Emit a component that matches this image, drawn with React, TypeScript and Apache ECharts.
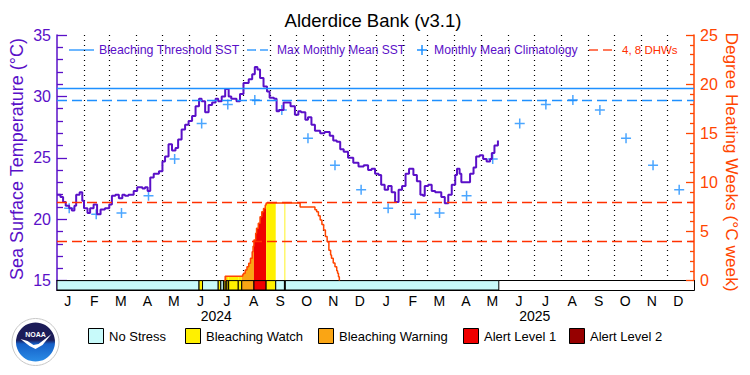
import React, { useEffect, useRef } from "react";
import * as echarts from "echarts";

// ---------- data ----------
const DAY = 86400000;
const T0 = Date.UTC(2024, 0, 1);
const T1 = Date.UTC(2026, 0, 1);
const toTs = (d: number) => T0 + d * DAY;

const monthLetters = ["J", "F", "M", "A", "M", "J", "J", "A", "S", "O", "N", "D"];
const years = ["2024", "2025"];

// daily SST (day offset from 2024-01-01)
const sstDay = [
  0, 4, 7, 10, 14, 17, 20, 22, 26, 29, 31, 35, 38, 42, 46, 50, 55, 60, 63, 67, 71, 75, 78, 82, 88, 92, 98, 101,
  104, 107, 111, 117, 121, 124, 128, 132, 136, 139, 143, 147, 151, 155, 159, 163, 166, 170, 174, 178, 182, 185,
  189, 193, 197, 200, 206, 210, 214, 220, 224, 227, 230, 233, 237, 241, 244, 249, 252, 255, 260, 265, 268, 273,
  277, 280, 285, 288, 292, 296, 302, 307, 313, 317, 321, 325, 329, 334, 340, 346, 352, 357, 361, 365, 369, 372,
  376, 380, 384, 388, 392, 396, 400, 404, 409, 413, 417, 420, 422, 426, 430, 434, 437, 441, 445, 449, 453, 457,
  459, 462, 464, 470, 474, 478, 481, 485, 489, 493, 497, 499, 502, 506,
];
const sstTemp = [
  22.0, 21.8, 21.4, 21.1, 20.9, 20.7, 21.1, 22.0, 22.2, 21.5, 20.9, 20.5, 20.9, 21.2, 20.4, 20.8, 20.9, 21.2, 21.9,
  22.0, 21.7, 22.0, 21.9, 22.0, 22.3, 22.6, 22.5, 22.6, 22.3, 23.4, 23.7, 23.9, 24.7, 25.1, 26.1, 25.6, 25.8, 26.5,
  27.3, 27.7, 28.0, 28.4, 29.2, 29.8, 29.6, 28.7, 29.3, 29.5, 29.8, 29.6, 30.0, 30.6, 30.0, 29.8, 29.6, 30.2, 31.1,
  31.4, 31.8, 32.4, 32.2, 31.5, 30.8, 30.4, 29.9, 29.8, 28.8, 28.9, 29.5, 29.5, 29.2, 28.5, 28.8, 28.7, 28.1, 28.3,
  27.7, 27.2, 27.0, 27.1, 26.8, 26.4, 26.3, 25.7, 25.5, 25.0, 24.6, 24.3, 24.4, 24.0, 24.1, 23.7, 23.6, 22.8, 22.4,
  22.7, 22.2, 21.4, 22.4, 22.7, 23.7, 24.1, 23.6, 23.1, 22.0, 21.9, 22.7, 22.8, 22.3, 22.2, 22.2, 21.8, 21.3, 22.0,
  22.8, 23.6, 24.1, 23.7, 23.0, 23.0, 23.7, 24.2, 25.1, 25.2, 24.9, 24.7, 24.9, 25.4, 26.0, 26.4,
];

// monthly mean climatology (Jan..Dec)
const climatology = [20.9, 20.4, 20.5, 21.9, 24.9, 27.8, 29.35, 29.7, 28.9, 26.6, 24.4, 22.4];
const MMM = 29.66;
const THRESHOLD = 30.66;
const dhwLevels = [4, 8];

// Degree heating weeks
const dhwDay = [
  192, 193, 213, 214, 216, 218, 220, 222, 224, 225, 226, 228, 229, 231, 233, 235, 237, 239, 240, 279, 294, 296, 298,
  300, 302, 304, 306, 308, 310, 312, 314, 315, 317, 319, 321, 322, 323, 324,
];
const dhwVal = [
  0, 0.45, 0.6, 0.74, 1.08, 1.4, 1.76, 2.27, 2.94, 3.5, 4.13, 4.81, 5.32, 5.83, 6.5, 7.0, 7.35, 7.69, 7.9, 7.5, 7.5,
  7.2, 7.0, 6.6, 6.16, 5.7, 5.15, 4.5, 3.96, 3.1, 2.6, 2.27, 1.8, 1.41, 1.0, 0.74, 0.4, 0,
];

// stress level runs (start day, level); last run ends at stressEndDay
const stressStartDay = [0, 163, 167, 185, 188, 191, 193, 195, 197, 208, 212, 226, 240, 251, 261, 262];
const stressLevel = [0, 1, 0, 1, 0, 1, 2, 1, 1, 1, 2, 3, 1, 0, 1, 0];
const stressEndDay = 507;
const stressNames = ["No Stress", "Bleaching Watch", "Bleaching Warning", "Alert Level 1", "Alert Level 2"];
const stressColors = ["#c8fafa", "#fff000", "#faa514", "#f00000", "#960000"];

// ---------- styles ----------
const PURPLE = "#5a10c8";
const ORANGE = "#ff4500";
const BLUE = "#1e90ff";
const RED = "#ff3000";
const FONT = "Liberation Sans";

const App: React.FC = () => {
  const ref = useRef<HTMLDivElement>(null);

  useEffect(() => {
    if (!ref.current) return;
    const chart = echarts.init(ref.current, undefined, { renderer: "svg" });

    const sstData = sstDay.map((d, i) => [toTs(d), sstTemp[i]]);
    const dhwPts = dhwDay.map((d, i) => [toTs(d), dhwVal[i]]);
    const climData: number[][] = [];
    years.forEach((y) => climatology.forEach((v, m) => climData.push([Date.UTC(+y, m, 15), v])));
    const runs = stressStartDay.map((s, i) => [
      toTs(s),
      toTs(i + 1 < stressStartDay.length ? stressStartDay[i + 1] : stressEndDay),
      stressLevel[i],
    ]);
    const monthStarts: number[][] = [];
    for (let i = 1; i < 24; i++) monthStarts.push([Date.UTC(2024, i, 1), 15]);
    const monthCats = years.flatMap(() => monthLetters);

    const dhwAt = (t: number) => {
      let v = 0;
      for (const p of dhwPts) if (p[0] <= t) v = p[1];
      return v;
    };

    const cx = 35.5,
      cy = 342;
    const bird = [
      [-15, -3], [-8, -1], [-2, 3], [3, 2], [16, -8], [7, 3], [0, 7], [-6, 4],
    ].map(([x, y]) => [cx + x, cy + y]);

    const legendTop = [
      { type: "line", shape: { x1: 69, y1: 50, x2: 94, y2: 50 }, style: { stroke: BLUE, lineWidth: 1.3 } },
      { type: "text", x: 99, y: 50, style: { text: "Bleaching Threshold SST", fill: PURPLE, font: `12.4px "${FONT}"`, verticalAlign: "middle" } },
      { type: "line", shape: { x1: 247, y1: 50, x2: 256, y2: 50 }, style: { stroke: BLUE, lineWidth: 1.3 } },
      { type: "line", shape: { x1: 260, y1: 50, x2: 268, y2: 50 }, style: { stroke: BLUE, lineWidth: 1.3 } },
      { type: "text", x: 277, y: 50, style: { text: "Max Monthly Mean SST", fill: PURPLE, font: `12px "${FONT}"`, verticalAlign: "middle" } },
      { type: "line", shape: { x1: 417, y1: 50, x2: 427, y2: 50 }, style: { stroke: BLUE, lineWidth: 1.5 } },
      { type: "line", shape: { x1: 422, y1: 45, x2: 422, y2: 55 }, style: { stroke: BLUE, lineWidth: 1.5 } },
      { type: "text", x: 434, y: 50, style: { text: "Monthly Mean Climatology", fill: PURPLE, font: `12.2px "${FONT}"`, verticalAlign: "middle" } },
      { type: "line", shape: { x1: 589, y1: 50, x2: 598, y2: 50 }, style: { stroke: RED, lineWidth: 1.3 } },
      { type: "line", shape: { x1: 603, y1: 50, x2: 612, y2: 50 }, style: { stroke: RED, lineWidth: 1.3 } },
      { type: "text", x: 622, y: 50, style: { text: "4, 8 DHWs", fill: RED, font: `11.5px "${FONT}"`, verticalAlign: "middle" } },
    ];

    const legendX = [88, 185, 318, 463, 569];
    const legendBottom: any[] = [];
    stressNames.forEach((n, i) => {
      legendBottom.push({
        type: "rect",
        shape: { x: legendX[i] + 0.5, y: 328.5, width: 15, height: 15 },
        style: { fill: stressColors[i], stroke: "#000", lineWidth: 1 },
      });
      legendBottom.push({
        type: "text",
        x: legendX[i] + 21,
        y: 336,
        style: { text: n, fill: "#000", font: `13px "${FONT}"`, verticalAlign: "middle" },
      });
    });

    const option: any = {
      animation: false,
      backgroundColor: "#fff",
      textStyle: { fontFamily: FONT },
      grid: [
        { left: 57, right: 56, top: 35, height: 245.6 },
        { left: 57, right: 56, top: 280.6, height: 9.4 },
      ],
      xAxis: [
        {
          type: "time", gridIndex: 0, min: T0, max: T1, position: "top",
          axisLine: { show: true, lineStyle: { color: "#000", width: 1 } },
          axisTick: { show: false }, axisLabel: { show: false }, splitLine: { show: false },
        },
        {
          type: "time", gridIndex: 1, min: T0, max: T1, position: "top",
          axisLine: { show: true, lineStyle: { color: "#000", width: 1 } },
          axisTick: { show: false }, axisLabel: { show: false }, splitLine: { show: false },
        },
        {
          type: "category", gridIndex: 1, data: monthCats, position: "bottom", boundaryGap: true,
          axisLine: { show: true, lineStyle: { color: "#000", width: 1 } },
          axisTick: { show: false },
          axisLabel: { interval: 0, color: "#000", fontSize: 14, fontFamily: FONT, margin: 4, padding: [0, 5, 0, 0] },
          splitLine: { show: false },
        },
        {
          type: "category", gridIndex: 1, data: years, position: "bottom", boundaryGap: true,
          axisLine: { show: false }, axisTick: { show: false },
          axisLabel: { interval: 0, color: "#000", fontSize: 14, fontFamily: FONT, margin: 19 },
          splitLine: { show: false },
        },
      ],
      yAxis: [
        {
          type: "value", gridIndex: 0, min: 15, max: 35, interval: 5, position: "left",
          axisLine: { show: true, lineStyle: { color: PURPLE, width: 1.5 } },
          axisTick: { show: true, inside: true, length: 10, lineStyle: { color: PURPLE, width: 1.3 } },
          minorTick: { show: true, splitNumber: 5, length: 6, lineStyle: { color: PURPLE, width: 1.3 } },
          axisLabel: { color: PURPLE, fontSize: 16, fontFamily: FONT, margin: 6 },
          splitLine: { show: false },
        },
        {
          type: "value", gridIndex: 0, min: 0, max: 25, interval: 5, position: "right",
          axisLine: { show: true, lineStyle: { color: ORANGE, width: 1.5 } },
          axisTick: { show: true, inside: true, length: 8, lineStyle: { color: ORANGE, width: 1.3 } },
          minorTick: { show: true, splitNumber: 5, length: 4, lineStyle: { color: ORANGE, width: 1.3 } },
          axisLabel: { color: ORANGE, fontSize: 16, fontFamily: FONT, margin: 6 },
          splitLine: { show: false },
        },
        {
          type: "value", gridIndex: 1, min: 0, max: 1, position: "left",
          axisLine: { show: true, lineStyle: { color: PURPLE, width: 1.5 } },
          axisTick: { show: false }, axisLabel: { show: false }, splitLine: { show: false },
        },
        {
          type: "value", gridIndex: 1, min: 0, max: 1, position: "right",
          axisLine: { show: true, lineStyle: { color: "#000", width: 1 } },
          axisTick: { show: false }, axisLabel: { show: false }, splitLine: { show: false },
        },
      ],
      series: [
        {
          name: "months",
          type: "custom",
          xAxisIndex: 0,
          yAxisIndex: 0,
          silent: true,
          data: monthStarts,
          encode: { x: 0, y: 1 },
          renderItem: (params: any, api: any) => {
            const t = api.value(0);
            const a = api.coord([t, 35]);
            const b = api.coord([t, 15]);
            return {
              type: "line",
              shape: { x1: Math.round(a[0]) + 0.5, y1: a[1], x2: Math.round(b[0]) + 0.5, y2: b[1] },
              style: { stroke: "#000", lineWidth: 1.2, lineDash: [1, 4] },
            };
          },
        },
        {
          name: "DHW fill",
          type: "custom",
          xAxisIndex: 0,
          yAxisIndex: 1,
          silent: true,
          data: runs.filter((r) => r[2] > 0),
          encode: { x: [0, 1], y: 2 },
          renderItem: (params: any, api: any) => {
            const s = api.value(0),
              e = api.value(1),
              lvl = api.value(2);
            let v = dhwAt(s);
            const pts: number[][] = [api.coord([s, 0]), api.coord([s, v])];
            for (const p of dhwPts) {
              if (p[0] > s && p[0] < e) {
                pts.push(api.coord([p[0], v]));
                v = p[1];
                pts.push(api.coord([p[0], v]));
              }
            }
            pts.push(api.coord([e, v]), api.coord([e, 0]));
            return { type: "polygon", shape: { points: pts }, style: { fill: stressColors[lvl] } };
          },
        },
        {
          name: "DHW",
          type: "line",
          xAxisIndex: 0,
          yAxisIndex: 1,
          step: "end",
          showSymbol: false,
          data: dhwPts,
          lineStyle: { color: ORANGE, width: 1.5 },
          silent: true,
          markLine: {
            silent: true,
            symbol: ["none", "none"],
            label: { show: false },
            lineStyle: { color: RED, type: [10, 5], width: 1.3 },
            data: dhwLevels.map((v) => ({ yAxis: v })),
          },
        },
        {
          name: "SST",
          type: "line",
          xAxisIndex: 0,
          yAxisIndex: 0,
          step: "end",
          showSymbol: false,
          data: sstData,
          lineStyle: { color: PURPLE, width: 2 },
          silent: true,
          markLine: {
            silent: true,
            symbol: ["none", "none"],
            label: { show: false },
            data: [
              { yAxis: THRESHOLD, lineStyle: { color: BLUE, type: "solid", width: 1.3 } },
              { yAxis: MMM, lineStyle: { color: BLUE, type: [10, 5], width: 1.3 } },
            ],
          },
        },
        {
          name: "Climatology",
          type: "scatter",
          xAxisIndex: 0,
          yAxisIndex: 0,
          data: climData,
          symbol: "path://M-0.75,-5h1.5v10h-1.5z M-5,-0.75h10v1.5h-10z",
          symbolSize: 10,
          itemStyle: { color: BLUE },
          silent: true,
        },
        {
          name: "Stress",
          type: "custom",
          xAxisIndex: 1,
          yAxisIndex: 2,
          silent: true,
          data: runs,
          encode: { x: [0, 1], y: 2 },
          renderItem: (params: any, api: any) => {
            const s = api.value(0),
              e = api.value(1),
              lvl = api.value(2);
            const p0 = api.coord([s, 1]);
            const p1 = api.coord([e, 0]);
            return {
              type: "rect",
              shape: { x: p0[0], y: p0[1], width: p1[0] - p0[0], height: p1[1] - p0[1] },
              style: { fill: stressColors[lvl], stroke: "#000", lineWidth: 1 },
            };
          },
        },
      ],
      graphic: [
        {
          type: "text", x: 373, y: 20,
          style: { text: "Alderdice Bank (v3.1)", fill: "#000", font: `18.5px "${FONT}"`, align: "center", verticalAlign: "middle" },
        },
        {
          type: "text", x: 17, y: 159, rotation: Math.PI / 2,
          style: { text: "Sea Surface Temperature (°C)", fill: PURPLE, font: `18px "${FONT}"`, align: "center", verticalAlign: "middle" },
        },
        {
          type: "text", x: 732, y: 162, rotation: -Math.PI / 2,
          style: { text: "Degree Heating Weeks (°C week)", fill: ORANGE, font: `17.3px "${FONT}"`, align: "center", verticalAlign: "middle" },
        },
        ...legendTop,
        ...legendBottom,
        { type: "circle", shape: { cx, cy, r: 23.5 }, style: { fill: "#fff", stroke: "#c8c8c8", lineWidth: 1 } },
        {
          type: "circle",
          shape: { cx, cy, r: 19.5 },
          style: {
            fill: new echarts.graphic.LinearGradient(0, 0, 0, 1, [
              { offset: 0, color: "#1c1c58" },
              { offset: 0.45, color: "#1c1c58" },
              { offset: 0.55, color: "#1560c8" },
              { offset: 1, color: "#2a8ce6" },
            ]),
          },
        },
        { type: "polygon", shape: { points: bird }, style: { fill: "#fff" } },
        {
          type: "text", x: cx, y: cy - 8,
          style: { text: "NOAA", fill: "#fff", font: `bold 7px "${FONT}"`, align: "center", verticalAlign: "middle" },
        },
      ],
    };

    chart.setOption(option);
    return () => chart.dispose();
  }, []);

  return (
    <div
      ref={ref}
      style={{ position: "fixed", left: 0, top: 0, width: 750, height: 375, background: "#fff" }}
    />
  );
};

export default App;
